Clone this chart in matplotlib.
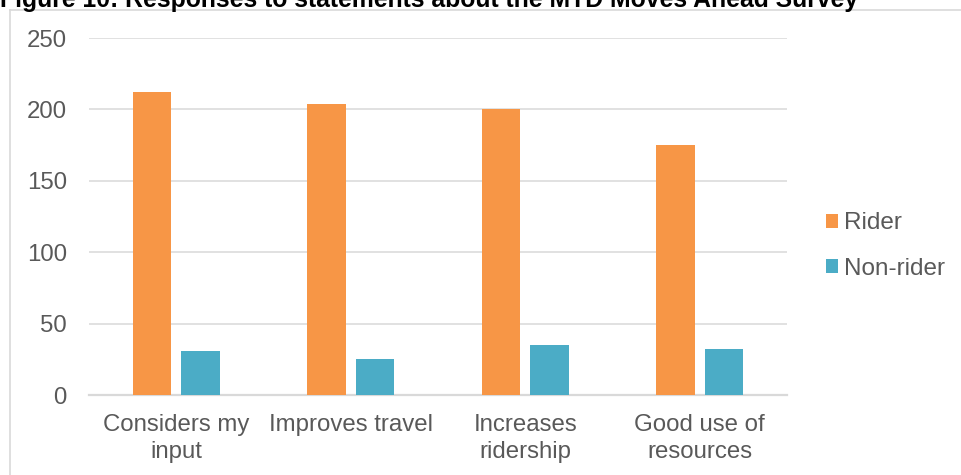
import matplotlib.pyplot as plt
import numpy as np
from matplotlib.lines import Line2D

plt.rcParams['font.family'] = ['Liberation Sans', 'DejaVu Sans']

# data
categories = ['Considers my\ninput', 'Improves travel', 'Increases\nridership', 'Good use of\nresources']
rider = [212, 204, 200, 175]
non_rider = [31, 25, 35, 32]
series_names = ['Rider', 'Non-rider']
yticks = [0, 50, 100, 150, 200, 250]

ORANGE = '#F79646'
TEAL = '#4BACC6'
GRID = '#D9D9D9'
TEXT = '#595959'

W, H = 961, 475
fig = plt.figure(figsize=(W / 100, H / 100), dpi=100)

# chart frame (top-left part visible)
fig.add_artist(Line2D([10 / W, 10 / W], [0, 1 - 10 / H], color=GRID, lw=1.2))
fig.add_artist(Line2D([10 / W, 1], [1 - 10 / H, 1 - 10 / H], color=GRID, lw=1.2))

# title sits against the top edge, as in the source
fig.text(0.0, 1 - 7 / H, 'Figure 10: Responses to statements about the MTD Moves Ahead Survey',
         fontsize=17.8, fontweight='bold', ha='left', va='baseline', color='black')

ax = fig.add_axes([89 / W, 1 - 395 / H, (787 - 89) / W, (395 - 38) / H])

x = np.arange(len(categories))
bw = 0.22
ax.bar(x - 0.138, rider, width=bw, color=ORANGE, label=series_names[0], zorder=3)
ax.bar(x + 0.138, non_rider, width=bw, color=TEAL, label=series_names[1], zorder=3)

ax.set_xlim(-0.5, len(categories) - 0.5)
ax.set_ylim(0, 250)
ax.set_yticks(yticks)
ax.set_xticks(x)
ax.set_xticklabels(categories, linespacing=1.33)
ax.tick_params(axis='both', length=0, labelsize=17.3, labelcolor=TEXT)
ax.tick_params(axis='y', pad=16)
ax.tick_params(axis='x', pad=13.5)

ax.grid(axis='y', color=GRID, lw=1.1, zorder=0)
for s in ['top', 'right', 'left']:
    ax.spines[s].set_visible(False)
ax.spines['bottom'].set_color(GRID)
ax.spines['bottom'].set_linewidth(1.6)

ax.legend(loc='center left', bbox_to_anchor=(804 / W, 1 - 246 / H),
          bbox_transform=fig.transFigure, frameon=False, fontsize=17.5,
          labelcolor=TEXT, handlelength=0.5, handleheight=0.5,
          handletextpad=0.25, labelspacing=0.95)

fig.savefig('out.png', dpi=100)
